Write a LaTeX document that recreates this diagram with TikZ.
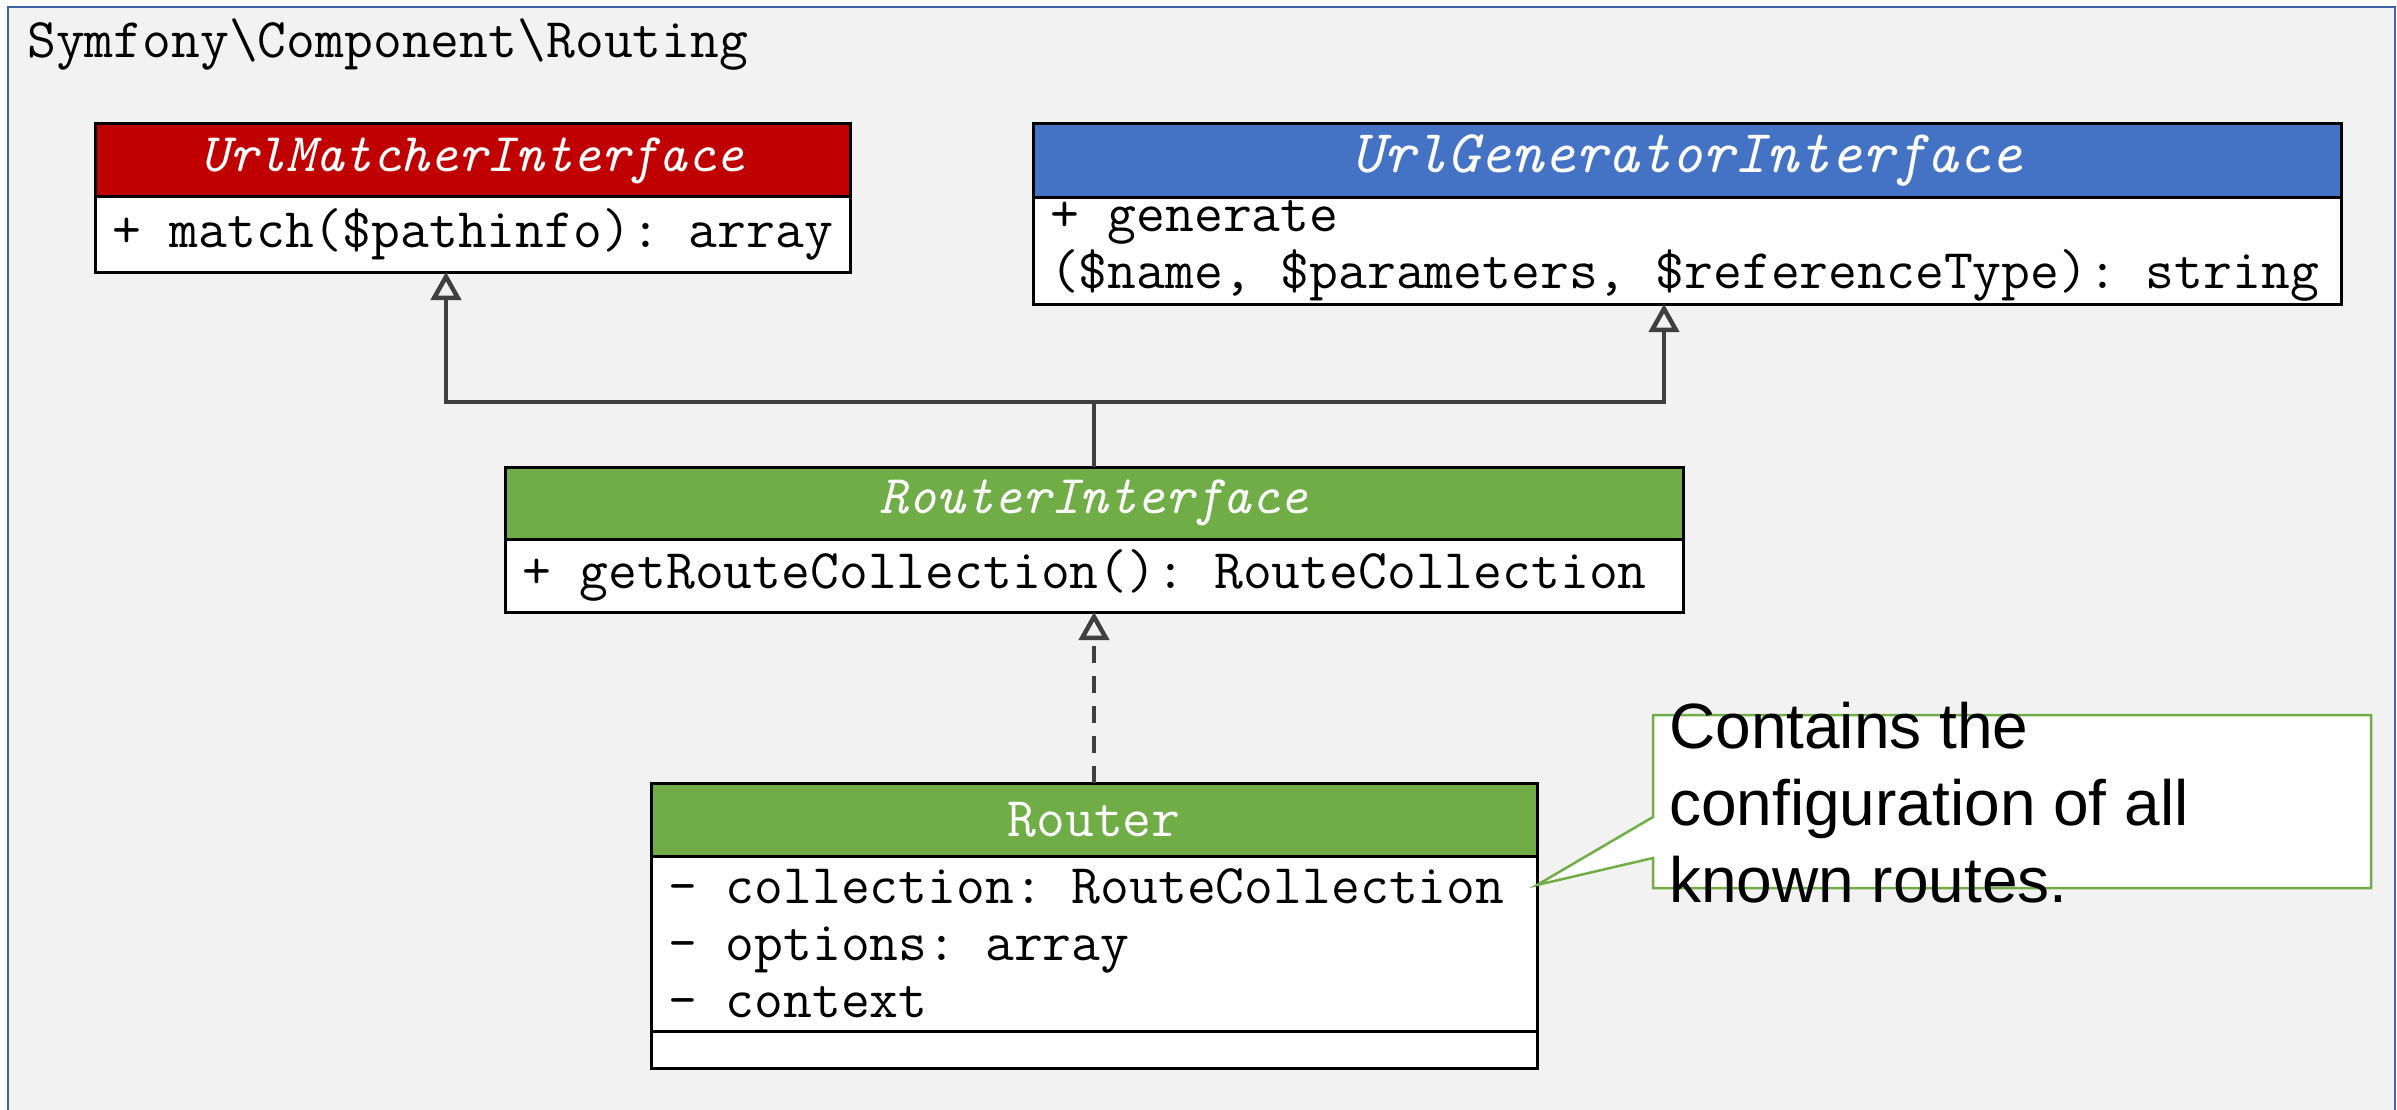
\documentclass[tikz,border=0pt]{standalone}
\usepackage{fontspec}
\setmainfont{Liberation Sans}
\usetikzlibrary{arrows.meta,calc}

\definecolor{frameblue}{HTML}{3F64A6}
\definecolor{panelgray}{HTML}{F2F2F2}
\definecolor{hdrred}{HTML}{C00000}
\definecolor{hdrblue}{HTML}{4472C4}
\definecolor{hdrgreen}{HTML}{70AD47}
\definecolor{linkgray}{HTML}{404040}

% typewriter faces for the class boxes (Latin Modern Mono)
\newcommand\umlfont{\ttfamily\fontsize{56}{57}\selectfont}
\newcommand\umlitfont{\ttfamily\itshape\fontsize{54.5}{57}\selectfont}
\newcommand\umlbigitfont{\ttfamily\itshape\fontsize{60.8}{64}\selectfont}
\newcommand\notefont{\rmfamily\fontsize{64}{77}\selectfont}
% a blank exactly one typewriter cell wide
\newcommand\tsp{\kern\fontcharwd\font`\x\relax}

\begin{document}
\begin{tikzpicture}[x=1pt,y=-1pt,
  classhead/.style={draw=black, line width=3pt, text=white, font=\umlfont,
    inner sep=0pt, outer sep=0pt, anchor=north west},
  compartment/.style={draw=black, fill=white, line width=3pt, font=\umlfont,
    align=left, inner xsep=17pt, inner ysep=0pt, outer sep=0pt, anchor=north west},
  inherit/.style={draw=linkgray, line width=4.5pt,
    -{Triangle[open, length=28pt, width=30pt]}},
  notebox/.style={draw=hdrgreen, line width=2.5pt, fill=white},
]
\useasboundingbox (0,0) rectangle (2397,1110);
\clip (0,0) rectangle (2397,1110);
\fill[white] (0,0) rectangle (2397,1110);

% package frame
\draw[frameblue, line width=2.5pt, fill=panelgray] (8,7) rectangle (2395,1130);
\node[anchor=base west, inner sep=0pt, font=\umlfont] (pkg) at (27,58)
  {Symfony\textbackslash Component\textbackslash Routing};

% UrlMatcherInterface
\node[classhead, fill=hdrred, minimum width=755pt, minimum height=73pt,
  font=\umlitfont] (umh) at (95,124) {UrlMatcherInterface};
\node[compartment, text width=721pt, minimum height=75pt] (umb) at (umh.south west)
  {+\tsp match(\$pathinfo):\tsp array};

% UrlGeneratorInterface
\node[classhead, fill=hdrblue, minimum width=1308pt, minimum height=74pt,
  font=\umlbigitfont] (ugh) at (1033,124) {UrlGeneratorInterface};
\node[compartment, text width=1274pt, minimum height=106pt] (ugb) at (ugh.south west)
  {+\tsp generate\\(\$name,\tsp \$parameters,\tsp \$referenceType):\tsp string};

% RouterInterface
\node[classhead, fill=hdrgreen, minimum width=1178pt, minimum height=72pt,
  font=\umlitfont] (rih) at (505,467) {RouterInterface};
\node[compartment, text width=1144pt, minimum height=73pt] (rib) at (rih.south west)
  {+\tsp getRouteCollection():\tsp RouteCollection};

% Router
\node[classhead, fill=hdrgreen, minimum width=886pt, minimum height=73pt] (rh) at (651,783) {Router};
\node[compartment, text width=852pt, minimum height=175pt] (rab) at (rh.south west)
  {-\tsp collection:\tsp RouteCollection\\-\tsp options:\tsp array\\-\tsp context};
\node[compartment, text width=852pt, minimum height=37pt] (rob) at (rab.south west) {};

% generalisation / realisation links
\coordinate (jn) at ($(rih.north)+(0,-65)$);
\draw[inherit] (rih.north) -- (jn) -| ([xshift=-26.5pt]umb.south);
\draw[inherit] (jn) -| ([xshift=-23pt]ugb.south);
\draw[inherit, dash pattern=on 17pt off 13pt] (rh.north) -- (rib.south);

% note attached to the collection attribute
\node[inner sep=0pt, outer sep=0pt, minimum width=718pt, minimum height=173pt,
  anchor=north west] (note) at (1653,715) {};
\draw[notebox] (note.north west) -- (note.north east) -- (note.south east)
  -- (note.south west) -- ([yshift=30pt]note.south west)
  -- ([yshift=58.5pt]rab.east) -- ([yshift=-102pt]note.north west) -- cycle;
\node[anchor=north west, inner sep=0pt, align=left, font=\notefont] (notetext)
  at (1669,702) {Contains the\\configuration of all\\known routes.};
\end{tikzpicture}
\end{document}
